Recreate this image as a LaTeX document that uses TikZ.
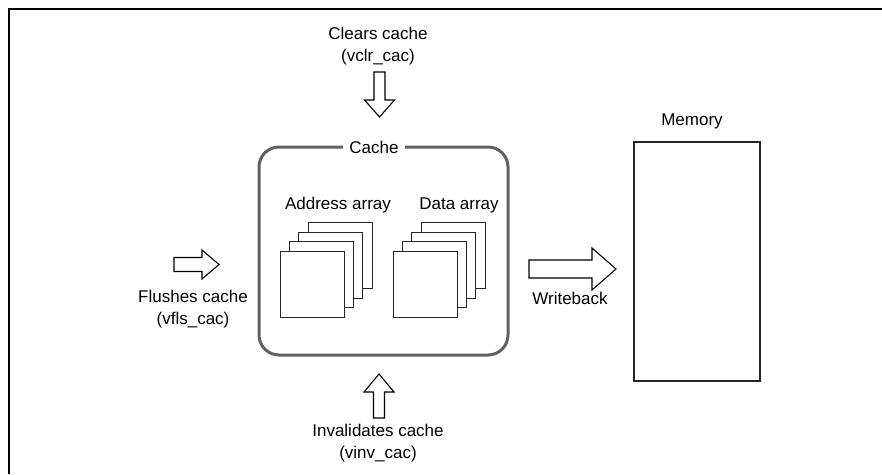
\documentclass[tikz,border=0pt]{standalone}
\usepackage{fontspec}
\setmainfont{Liberation Sans}
\begin{document}
\begin{tikzpicture}[x=1pt,y=-1pt,
  font=\fontsize{17}{22}\selectfont,
  lbl/.style={inner sep=0pt, align=center},
  sq/.style={draw=black!85, fill=white, line width=1pt},
  blk/.style={draw=black, fill=white, line width=1.1pt, line join=miter},
  cachebox/.style={draw=black!62, line width=3pt, rounded corners=20pt},
  membox/.style={draw=black!85, line width=1.4pt}]
\useasboundingbox (0,0) rectangle (882,474);
% frame
\draw[line width=2.7pt] (9,474) -- (9,9) -- (882,9);

% cache box
\draw[cachebox] (259,147) rectangle (508,355);
\node[lbl, fill=white, inner xsep=6pt, inner ysep=2pt] (cache) at (374,147) {Cache};

% address array
\node[lbl] (addr) at (338,205) {Address array};
\foreach \k in {3,2,1,0}
  \draw[sq] ({280+9.4*\k},{251-9.4*\k}) rectangle ++(64,66);
% data array
\node[lbl] (data) at (459,205) {Data array};
\foreach \k in {3,2,1,0}
  \draw[sq] ({393+9.4*\k},{251-9.4*\k}) rectangle ++(64,66);

% memory
\draw[membox] (634,142) rectangle (760,381);
\node[lbl] (mem) at (692,121) {Memory};

% clears cache (down arrow)
\node[lbl] (clr) at (378,46) {Clears cache\\(vclr\_cac)};
\draw[blk] (374,72) -- (385,72) -- (385,100) -- (394.5,100) -- (379.5,117)
  -- (364.5,100) -- (374,100) -- cycle;

% invalidates cache (up arrow)
\node[lbl] (inv) at (378,443) {Invalidates cache\\(vinv\_cac)};
\draw[blk] (373.5,418) -- (384.5,418) -- (384.5,392) -- (394,392) -- (379,374)
  -- (364,392) -- (373.5,392) -- cycle;

% flushes cache (right arrow)
\node[lbl] (fls) at (193,309) {Flushes cache\\(vfls\_cac)};
\draw[blk] (174,257.5) -- (202,257.5) -- (202,250) -- (219,264.5) -- (202,279)
  -- (202,271.5) -- (174,271.5) -- cycle;

% writeback arrow
\draw[blk] (529,260) -- (592,260) -- (592,248) -- (616,269) -- (592,290)
  -- (592,278) -- (529,278) -- cycle;
\node[lbl] (wb) at (570,298) {Writeback};
\end{tikzpicture}
\end{document}
